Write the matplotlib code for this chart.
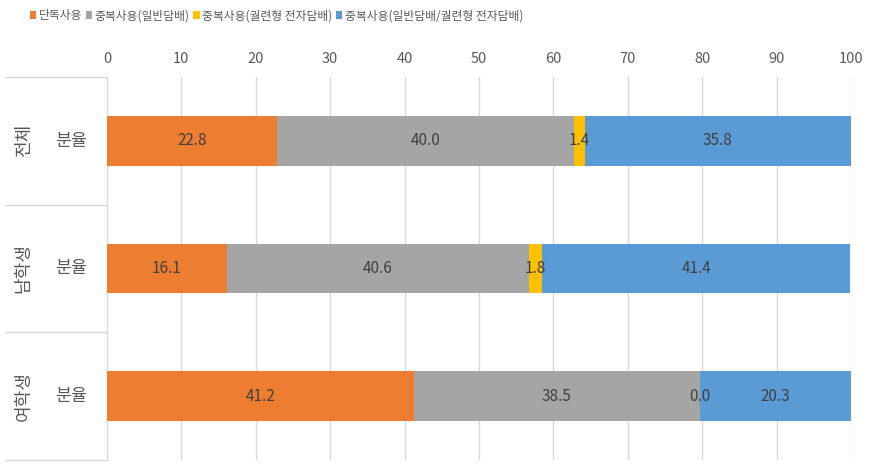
import numpy as np
import matplotlib.pyplot as plt
from matplotlib.lines import Line2D
from matplotlib.patches import Patch

plt.rcParams['font.family'] = ['Noto Sans CJK KR', 'DejaVu Sans']

groups = ['전체', '남학생', '여학생']
sub_label = '분율'
series = ['단독사용', '중복사용(일반담배)', '중복사용(궐련형 전자담배)', '중복사용(일반담배/궐련형 전자담배)']
values = [
    [22.8, 16.1, 41.2],
    [40.0, 40.6, 38.5],
    [1.4, 1.8, 0.0],
    [35.8, 41.4, 20.3],
]
colors = ['#ED7D31', '#A5A5A5', '#FFC000', '#5B9BD5']

fig = plt.figure(figsize=(8.79, 4.69), dpi=100)
ax = fig.add_axes([107 / 879, 1 - 460 / 469, (851 - 107) / 879, (460 - 77) / 469])

y = np.arange(len(groups))
left = np.zeros(len(groups))
handles = []
for name, vals, c in zip(series, values, colors):
    vals = np.array(vals)
    ax.barh(y, vals, left=left, height=0.39, color=c, zorder=3)
    for yi, l, v in zip(y, left, vals):
        ax.text(l + v / 2, yi, f'{v:.1f}', ha='center', va='center',
                fontsize=11, color='#404040', zorder=4)
    left += vals
    handles.append(Patch(facecolor=c, label=name))

ax.set_xlim(0, 100)
ax.set_ylim(len(groups) - 0.5, -0.5)
ax.set_xticks(np.arange(0, 101, 10))
ax.xaxis.tick_top()
ax.tick_params(axis='x', length=0, labelsize=10.5, labelcolor='#595959', pad=8)
ax.set_yticks([])
ax.grid(axis='x', color='#D9D9D9', linewidth=1, zorder=0)
for s in ['top', 'right', 'bottom']:
    ax.spines[s].set_visible(False)
ax.spines['left'].set_color('#D9D9D9')

# two-level category labels on the left
for yi, g in zip(y, groups):
    ax.text(-4.8, yi, sub_label, ha='center', va='center', fontsize=12.5,
            color='#595959', clip_on=False)
    ax.text(-11.2, yi, g, ha='center', va='center', fontsize=13,
            color='#595959', rotation=90, clip_on=False)
for b in np.arange(len(groups) + 1) - 0.5:
    ax.add_line(Line2D([-13.7, 0], [b, b], color='#D9D9D9', linewidth=1,
                       clip_on=False))

fig.legend(handles=handles, loc='center left', bbox_to_anchor=(30 / 879, 1 - 16 / 469),
           ncol=4, frameon=False, fontsize=8.5, handlelength=0.55, handleheight=0.7,
           handletextpad=0.2, columnspacing=0.3, borderaxespad=0, borderpad=0,
           labelcolor='#595959')

fig.savefig('out.png', dpi=100)
